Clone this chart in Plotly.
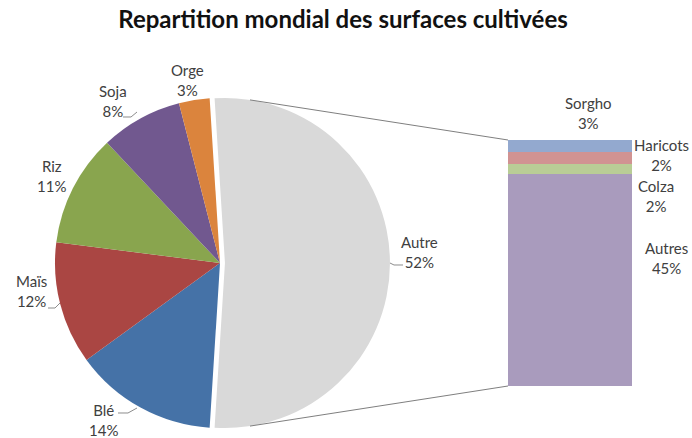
import plotly.graph_objects as go

W, H = 692, 438

# main pie (share of cultivated surface, %)
pie_labels = ["Autre", "Blé", "Maïs", "Riz", "Soja", "Orge"]
pie_values = [52, 14, 12, 11, 8, 3]
pie_colors = ["#D9D9D9", "#4572A7", "#AA4643", "#89A54E", "#71588F", "#DB843D"]

# breakdown of "Autre" (stacked bar, bottom to top)
bar_labels = ["Autres", "Colza", "Haricots", "Sorgho"]
bar_values = [44.8, 2.2, 2.4, 2.6]
bar_colors = ["#A99BBD", "#B9CD96", "#D19392", "#93A9CF"]

# label centres in pixels (Excel "best fit" placement)
label_pos = {
    "Autre": (419, 252), "Blé": (103, 420), "Maïs": (31, 291),
    "Riz": (51, 176), "Soja": (113, 101), "Orge": (188, 80),
    "Sorgho": (588, 113), "Haricots": (661, 155), "Colza": (656, 196),
    "Autres": (666, 258),
}

# short leader lines (pixels)
leaders = [
    [(123, 117), (131, 117), (137, 112)],
    [(48, 308), (55, 308), (60, 303)],
    [(118, 413), (128, 413), (137, 408)],
    [(390, 263), (394, 265), (403, 265)],
]


def px(x, y):
    return x / W, 1 - y / H


# pie geometry
cx, cy, r, pull = 220, 263, 165, 0.03
half = r * (1 + pull)
pie_dom_x = [(cx - half) / W, (cx + half) / W]
pie_dom_y = [1 - (cy + half) / H, 1 - (cy - half) / H]

# bar geometry
bar_left, bar_right, bar_top, bar_bottom = 508, 632, 140, 386

fig = go.Figure()

# "Autre" slice centred on 3 o'clock
fig.add_trace(go.Pie(
    labels=pie_labels, values=pie_values, sort=False, direction="clockwise",
    rotation=90 - pie_values[0] / sum(pie_values) * 180,
    pull=[pull] + [0] * (len(pie_values) - 1),
    marker=dict(colors=pie_colors, line=dict(width=0)),
    textinfo="none", hoverinfo="label+percent", showlegend=False,
    domain=dict(x=pie_dom_x, y=pie_dom_y),
))

for lab, val, col in zip(bar_labels, bar_values, bar_colors):
    fig.add_trace(go.Bar(
        x=[0], y=[val], name=lab, width=1, marker=dict(color=col, line=dict(width=0)),
        showlegend=False, xaxis="x", yaxis="y",
    ))

annotations = []
for lab, val in list(zip(pie_labels, pie_values)) + list(zip(bar_labels, bar_values)):
    x, y = px(*label_pos[lab])
    annotations.append(dict(
        x=x, y=y, xref="paper", yref="paper", showarrow=False,
        text=f"{lab}<br>{round(val)}%", align="center",
        xanchor="center", yanchor="middle",
        font=dict(family="Lato", size=15, color="#404040"),
    ))

shapes = []
# connector lines from the exploded slice to the bar
ox = cx + r * pull
edge_x = 250
dy = (r ** 2 - (edge_x - ox) ** 2) ** 0.5
for py_pie, py_bar in [(cy - dy, bar_top), (cy + dy, bar_bottom)]:
    x0, y0 = px(edge_x, py_pie)
    x1, y1 = px(bar_left, py_bar)
    shapes.append(dict(type="line", xref="paper", yref="paper", x0=x0, y0=y0, x1=x1, y1=y1,
                       line=dict(color="#7F7F7F", width=1)))

for pts in leaders:
    path = "M " + " L ".join(f"{a / W:.5f},{1 - b / H:.5f}" for a, b in pts)
    shapes.append(dict(type="path", xref="paper", yref="paper", path=path,
                       line=dict(color="#8C8C8C", width=1)))

fig.update_layout(
    width=W, height=H, margin=dict(l=0, r=0, t=0, b=0),
    paper_bgcolor="white", plot_bgcolor="white", barmode="stack", bargap=0,
    title=dict(text="<b>Repartition mondial des surfaces cultivées</b>", x=343 / W, y=1 - 20 / H,
               xanchor="center", yanchor="middle",
               font=dict(family="Lato", size=24, color="#111111")),
    xaxis=dict(domain=[bar_left / W, bar_right / W], range=[-0.5, 0.5], visible=False, fixedrange=True),
    yaxis=dict(domain=[1 - bar_bottom / H, 1 - bar_top / H], range=[0, sum(bar_values)],
               visible=False, fixedrange=True),
    annotations=annotations, shapes=shapes,
)

fig.write_html("out.html", config={"displayModeBar": False},
               post_script="document.body.style.margin='0';")
